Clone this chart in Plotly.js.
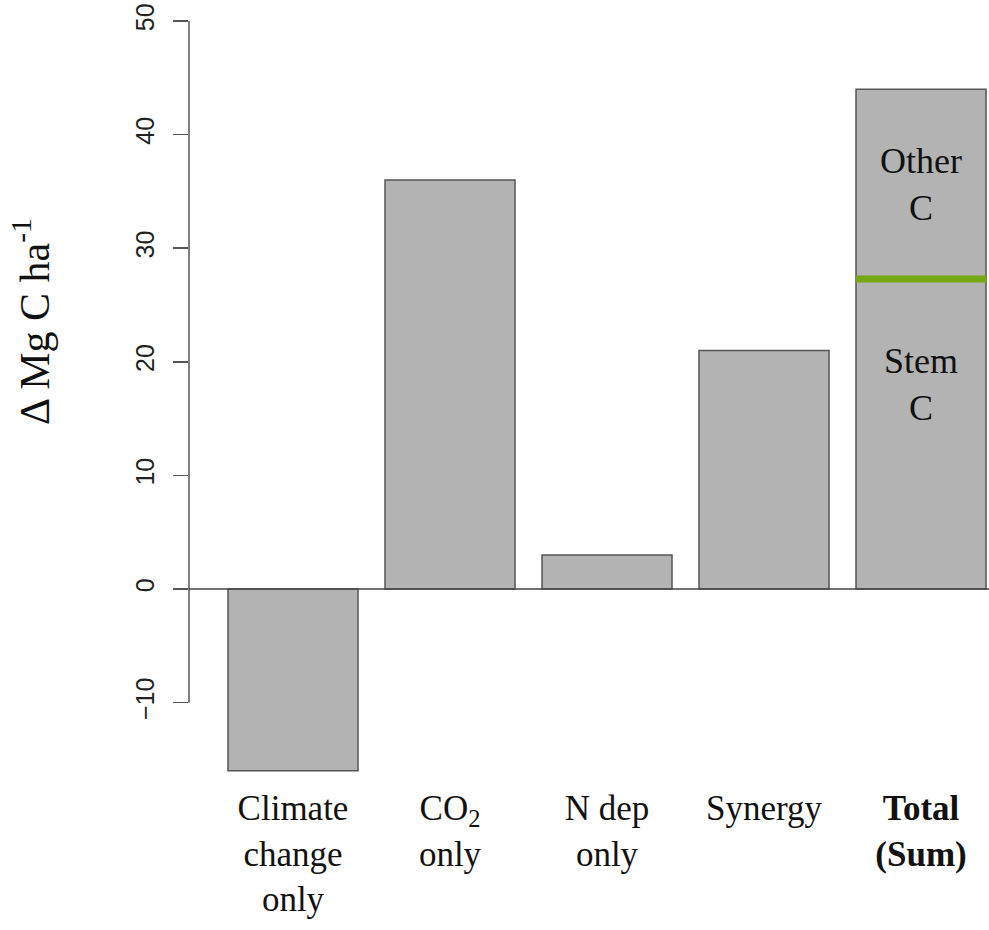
<!DOCTYPE html>
<html>
<head>
<meta charset="utf-8">
<script src="https://cdn.plot.ly/plotly-3.0.1.min.js"></script>
<style>html,body{margin:0;padding:0;background:#fff;}#chart{width:989px;height:930px;}</style>
</head>
<body>
<div id="chart"></div>
<script>
const categories = ['Climate change only', 'CO2 only', 'N dep only', 'Synergy', 'Total (Sum)'];
const tickLabels = ['Climate<br>change<br>only', 'CO<sub>2</sub><br>only', 'N dep<br>only', 'Synergy', '<b>Total<br>(Sum)</b>'];
const deltaC = [-16, 36, 3, 21, 44];
const stemC = 27.3;          // stem portion of the Total bar
const segmentLabels = ['Stem<br>C', 'Other<br>C'];
const segmentLabelY = [18, 35.65];
const yTicks = [-10, 0, 10, 20, 30, 40, 50];

const barWidth = 0.828;
const totalIdx = categories.length - 1;
const serif = 'Liberation Serif, Times New Roman, serif';

const trace = {
  type: 'bar',
  x: categories,
  y: deltaC,
  width: barWidth,
  marker: {color: '#b3b3b3', line: {color: '#555555', width: 1.5}},
  hoverinfo: 'x+y'
};

const layout = {
  width: 989, height: 930,
  margin: {l: 189, r: 0, t: 10, b: 150},
  paper_bgcolor: '#ffffff', plot_bgcolor: '#ffffff',
  showlegend: false,
  xaxis: {
    type: 'category',
    range: [-0.6624, 4.433],
    tickvals: categories, ticktext: tickLabels,
    ticks: '', showline: false, showgrid: false, zeroline: false,
    tickfont: {family: serif, size: 35, color: '#111111'},
    ticklabelstandoff: 4
  },
  yaxis: {
    range: [-16.81, 50.97],
    tickvals: yTicks,
    ticks: 'outside', ticklen: 15, tickwidth: 1.5, tickcolor: '#555555',
    tickangle: -90,
    tickfont: {family: 'Liberation Sans, Arial, sans-serif', size: 25, color: '#222222'},
    showline: false, showgrid: false, zeroline: false,
    ticklabelstandoff: 9
  },
  shapes: [
    {type: 'line', xref: 'paper', yref: 'y', x0: 0, x1: 0, y0: yTicks[0], y1: yTicks[yTicks.length-1],
     line: {color: '#555555', width: 1.5}},
    {type: 'line', xref: 'paper', yref: 'y', x0: 0, x1: 1, y0: 0, y1: 0,
     line: {color: '#444444', width: 1.5}},
    {type: 'line', xref: 'x', yref: 'y', x0: totalIdx - barWidth/2, x1: totalIdx + barWidth/2, y0: stemC, y1: stemC,
     line: {color: '#76a812', width: 7}}
  ],
  annotations: [
    {xref: 'paper', yref: 'paper', x: -0.196, y: 0.595, xanchor: 'center', yanchor: 'middle',
     text: 'Δ Mg C ha<sup>-1</sup>', textangle: -90, showarrow: false,
     font: {family: serif, size: 42, color: '#111111'}},
    {xref: 'x', yref: 'y', x: categories[totalIdx], y: segmentLabelY[0], text: segmentLabels[0], showarrow: false,
     font: {family: serif, size: 36, color: '#111111'}},
    {xref: 'x', yref: 'y', x: categories[totalIdx], y: segmentLabelY[1], text: segmentLabels[1], showarrow: false,
     font: {family: serif, size: 36, color: '#111111'}}
  ]
};

Plotly.newPlot('chart', [trace], layout, {displayModeBar: false, staticPlot: true});
</script>
</body>
</html>
